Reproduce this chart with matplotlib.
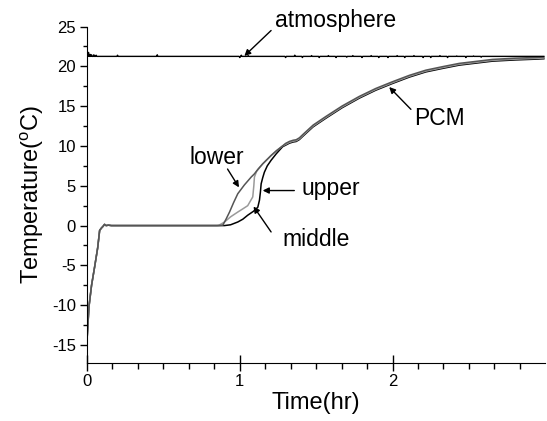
import matplotlib
matplotlib.use('Agg')
import matplotlib.pyplot as plt
import numpy as np

plt.rcParams['font.family'] = ['Liberation Sans', 'DejaVu Sans']
plt.rcParams['mathtext.fontset'] = 'custom'
plt.rcParams['mathtext.rm'] = 'Liberation Sans'
plt.rcParams['mathtext.it'] = 'Liberation Sans'
plt.rcParams['axes.unicode_minus'] = False

# --- data (time in hr, temperature in C) ---
# shared start: fast warm-up, then melting plateau at 0 C
start_t = [0.0, 0.013, 0.03, 0.05, 0.07, 0.083, 0.095, 0.105, 0.115, 0.125, 0.14, 0.16, 0.2]
start_T = [-14.5, -10.2, -7.5, -5.2, -2.8, -0.6, -0.3, -0.1, 0.15, 0.0, 0.05, 0.0, 0.0]

# the three sensors split after the plateau
lower_t = [0.5, 0.85, 0.889, 0.91, 0.933, 0.96, 0.987, 1.03, 1.075, 1.096, 1.12, 1.15, 1.205, 1.24, 1.28]
lower_T = [0.0, 0.0, 0.05, 0.8, 1.7, 2.9, 4.0, 5.1, 6.1, 6.5, 7.1, 7.75, 8.8, 9.4, 10.0]

middle_t = [0.5, 0.86, 0.9, 0.94, 0.987, 1.02, 1.052, 1.085, 1.092, 1.096, 1.11, 1.15, 1.205, 1.24, 1.28]
middle_T = [0.0, 0.0, 0.45, 1.1, 1.7, 2.1, 2.5, 3.6, 5.0, 6.1, 6.8, 7.75, 8.8, 9.4, 10.0]

upper_t = [0.5, 0.9, 0.94, 0.987, 1.02, 1.052, 1.09, 1.118, 1.129, 1.135, 1.14, 1.15, 1.161, 1.18, 1.205, 1.238, 1.28]
upper_T = [0.0, 0.0, 0.1, 0.45, 0.8, 1.3, 1.8, 2.3, 3.2, 4.2, 5.25, 6.0, 6.7, 7.5, 8.2, 9.0, 9.9]

# shared tail, approaching ambient
tail_t = [1.3, 1.325, 1.35, 1.369, 1.39, 1.412, 1.48, 1.565, 1.67, 1.782, 1.89, 2.0,
          2.11, 2.218, 2.33, 2.436, 2.545, 2.654, 2.8, 2.937, 2.99]
tail_T = [10.2, 10.45, 10.6, 10.66, 10.9, 11.3, 12.5, 13.6, 14.9, 16.1, 17.1, 17.95,
          18.75, 19.4, 19.85, 20.25, 20.5, 20.75, 20.9, 21.0, 21.05]
tail_shift = {'lower': 0.12, 'middle': 0.0, 'upper': -0.1}

# ambient line: flat at ~21.25 with short blips
atm_level = 21.25
blip_t = [0.01, 0.02, 0.03, 0.045, 0.06, 0.2, 0.46, 1.0, 1.01, 1.055, 1.3, 1.36, 1.41, 1.47,
          1.52, 1.58, 1.63, 1.7, 1.74, 1.8, 1.86, 1.91, 1.97, 2.03, 2.08, 2.14, 2.2, 2.25,
          2.31, 2.36, 2.42, 2.48, 2.53, 2.58]
blip_T = [21.75, 21.5, 21.45, 21.45, 21.4, 21.4, 21.45, 21.1, 21.4, 21.35, 21.1, 21.4, 21.1, 21.35,
          21.1, 21.35, 21.1, 21.15, 21.35, 21.1, 21.35, 21.1, 21.1, 21.35, 21.1, 21.35, 21.1, 21.1,
          21.35, 21.1, 21.3, 21.1, 21.3, 21.15]

series = [('upper', upper_t, upper_T, '#000000'),
          ('middle', middle_t, middle_T, '#9a9a9a'),
          ('lower', lower_t, lower_T, '#555555')]

fig = plt.figure(figsize=(5.47, 4.21), dpi=100)
ax = fig.add_axes([0.159, 0.137, 0.838, 0.8])

for name, t, T, c in series:
    tt = start_t + t + tail_t
    TT = start_T + T + [v + tail_shift[name] for v in tail_T]
    ax.plot(tt, TT, color=c, lw=1.1)

atm_t = [0.0]
atm_T = [atm_level]
for bt, bv in zip(blip_t, blip_T):
    atm_t += [bt - 0.004, bt, bt + 0.004]
    atm_T += [atm_level, bv, atm_level]
atm_t.append(2.99)
atm_T.append(atm_level)
ax.plot(atm_t, atm_T, color='k', lw=1.0)

ax.set_xlim(0, 3.0)
ax.set_ylim(-17.3, 25)
ax.set_xticks([0, 1, 2])
ax.set_xticks(np.arange(0, 3.0, 1 / 6), minor=True)
ax.set_yticks(np.arange(-15, 26, 5))
ax.set_yticks(np.arange(-15, 25.1, 2.5), minor=True)
ax.spines['top'].set_visible(False)
ax.spines['right'].set_visible(False)
ax.tick_params(axis='x', which='major', direction='inout', length=12, width=1, labelsize=12, pad=2)
ax.tick_params(axis='x', which='minor', direction='out', length=4, width=1)
ax.tick_params(axis='y', which='major', direction='out', length=5, width=1, labelsize=12, pad=3)
ax.tick_params(axis='y', which='minor', direction='out', length=3, width=1)

ax.set_xlabel('Time(hr)', fontsize=17, labelpad=2)
ax.set_ylabel('Temperature($^\\mathrm{o}$C)', fontsize=17, labelpad=4)

arrow = dict(arrowstyle='-|>', color='k', lw=1.0, mutation_scale=9, shrinkA=0, shrinkB=0)
fs = 16.5
ax.text(1.625, 25.7, 'atmosphere', fontsize=fs, ha='center', va='center', clip_on=False)
ax.annotate('', xy=(1.03, 21.3), xytext=(1.205, 24.5), arrowprops=arrow)
ax.text(2.304, 13.5, 'PCM', fontsize=fs, ha='center', va='center')
ax.annotate('', xy=(1.978, 17.4), xytext=(2.12, 14.6), arrowprops=arrow)
ax.text(0.848, 8.5, 'lower', fontsize=fs, ha='center', va='center')
ax.annotate('', xy=(0.995, 4.8), xytext=(0.92, 7.1), arrowprops=arrow)
ax.text(1.593, 4.66, 'upper', fontsize=fs, ha='center', va='center')
ax.annotate('', xy=(1.15, 4.4), xytext=(1.357, 4.4), arrowprops=arrow)
ax.text(1.5, -1.8, 'middle', fontsize=fs, ha='center', va='center')
ax.annotate('', xy=(1.09, 2.4), xytext=(1.205, -0.8), arrowprops=arrow)

fig.savefig('out.png', dpi=100)
